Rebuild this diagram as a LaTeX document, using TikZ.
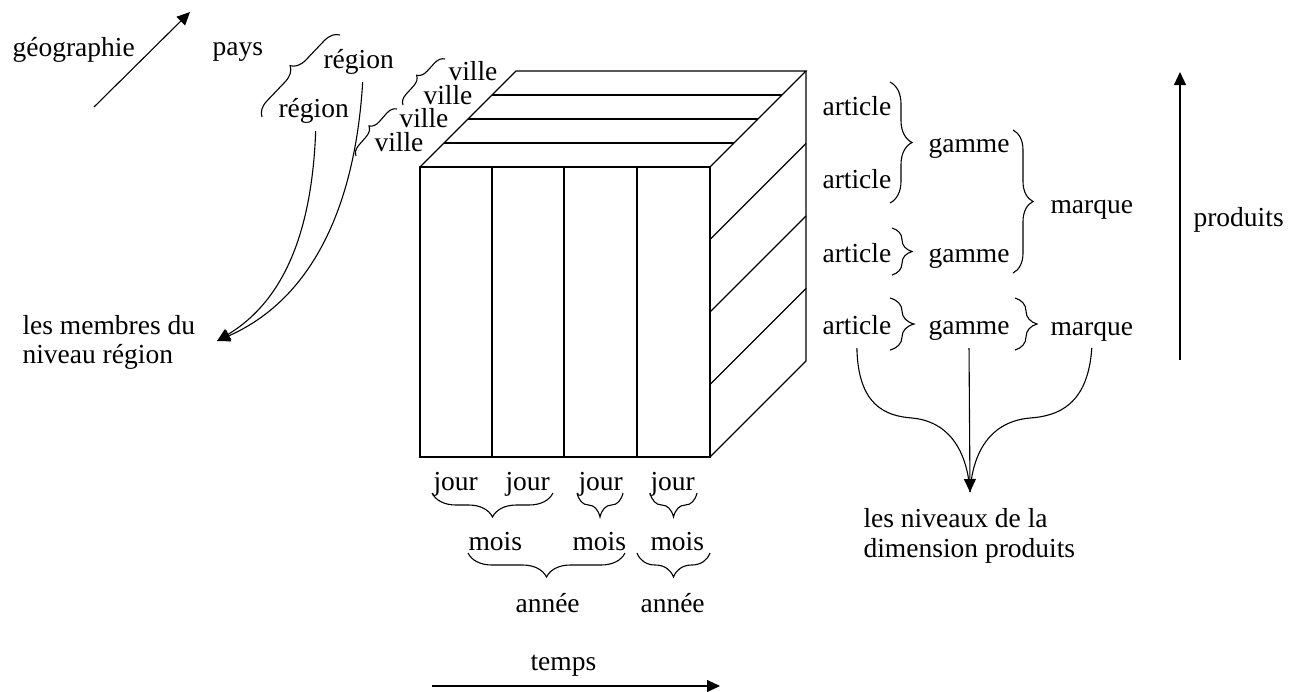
\documentclass[tikz,border=0pt]{standalone}
\usepackage{fontspec}
\setmainfont{Liberation Serif}
\newfontfamily\tnrfont{Liberation Serif}
\usetikzlibrary{arrows.meta,decorations.pathreplacing,calc}
\begin{document}
\begin{tikzpicture}[x=1pt,y=-1pt, line width=1.1pt,
  lbl/.style={anchor=base west, inner sep=0pt, font=\tnrfont\fontsize{27.5}{30}\selectfont},
  brc/.style={decorate, decoration={brace, amplitude=#1}},
  arr/.style={-{Triangle[length=13pt,width=12pt]}}]
\useasboundingbox (0,0) rectangle (1289,691);

% ---------- cube ----------
\draw (420,167) rectangle (710,457);
\foreach \x in {492,564,637} \draw (\x,167) -- (\x,457);
\draw (420,167) -- (516,71) -- (806,71) -- (710,167);
\draw (444,143) -- (734,143);
\draw (468,119) -- (758,119);
\draw (492,95) -- (782,95);
\draw (806,71) -- (806,361) -- (710,457);
\draw (806,143.5) -- (710,239.5);
\draw (806,216) -- (710,312);
\draw (806,288.5) -- (710,384.5);

% ---------- geography ----------
\node[lbl] (geo) at (12,56) {géographie};
\coordinate (geoA) at (94,107);
\coordinate (geoB) at (190,12);
\draw[arr] (geoA) -- (geoB);
\node[lbl] (pays) at (212,55) {pays};
\node[lbl] (reg1) at (323,68) {région};
\node[lbl] (reg2) at (278,117) {région};
\node[lbl] (v1) at (448,80) {ville};
\node[lbl] (v2) at (423,104) {ville};
\node[lbl] (v3) at (399,127) {ville};
\node[lbl] (v4) at (374,151) {ville};
\draw[brc=15pt] (262,117) -- (340,35);
\draw[brc=10pt] (403,105) -- (445,59);
\draw[brc=10pt] (356,156) -- (397,109);

\node[lbl] (mem1) at (22,334) {les membres du};
\node[lbl] (mem2) at (22,363) {niveau région};
\coordinate (mtip) at (217,341);
\draw[arr] ([xshift=2pt,yshift=-14pt]reg2.base) .. controls (312,230) and (285,300) .. (mtip);
\draw[arr] ([xshift=4pt,yshift=-14pt]reg1.base) .. controls (355,210) and (310,300) .. (mtip);

% ---------- products ----------
\node[lbl] (art1) at (822,115) {article};
\node[lbl] (art2) at (822,188) {article};
\node[lbl] (art3) at (822,262) {article};
\node[lbl] (art4) at (822,334) {article};
\node[lbl] (gam1) at (928,152) {gamme};
\node[lbl] (gam2) at (928,262) {gamme};
\node[lbl] (gam3) at (928,334) {gamme};
\node[lbl] (mar1) at (1050,213) {marque};
\node[lbl] (mar2) at (1050,335) {marque};
\node[lbl] (prod) at (1193,226) {produits};
\coordinate (pA) at (1180,360);
\coordinate (pB) at (1180,72);
\draw[arr] (pA) -- (pB);

\draw[brc=22pt] (890,82) -- (890,203);
\draw[brc=20pt] (892,228) -- (892,275);
\draw[brc=24pt] (890,298) -- (890,350);
\draw[brc=20pt] (1013,130) -- (1013,273);
\draw[brc=22pt] (1015,298) -- (1015,350);

\node[lbl] (niv1) at (863,527) {les niveaux de la};
\node[lbl] (niv2) at (863,557) {dimension produits};
\coordinate (ntip) at (970,492);
\draw[arr] ([yshift=-14pt]gam3.base) -- (ntip);
\draw ([yshift=-14pt]art4.base) .. controls (858,405) and (885,416) .. (912,418)
      .. controls (955,422) and (968,460) .. (ntip);
\draw ([yshift=-13pt]mar2.base) .. controls (1088,405) and (1058,416) .. (1030,418)
      .. controls (985,422) and (972,460) .. (ntip);

% ---------- time ----------
\node[lbl] (j1) at (433,490) {jour};
\node[lbl] (j2) at (505,490) {jour};
\node[lbl] (j3) at (578,490) {jour};
\node[lbl] (j4) at (650,490) {jour};
\node[lbl] (m1) at (468,550) {mois};
\node[lbl] (m2) at (572,550) {mois};
\node[lbl] (m3) at (650,550) {mois};
\node[lbl] (a1) at (515,612) {année};
\node[lbl] (a2) at (640,612) {année};
\node[lbl] (temps) at (530,670) {temps};
\draw[brc=24pt] (553,493) -- (432,493);
\draw[brc=24pt] (623,493) -- (577,493);
\draw[brc=24pt] (697,493) -- (650,493);
\draw[brc=24pt] (625,553) -- (468,553);
\draw[brc=24pt] (710,553) -- (637,553);
\coordinate (tA) at (432,686);
\coordinate (tB) at (720,686);
\draw[arr] (tA) -- (tB);
\end{tikzpicture}
\end{document}
